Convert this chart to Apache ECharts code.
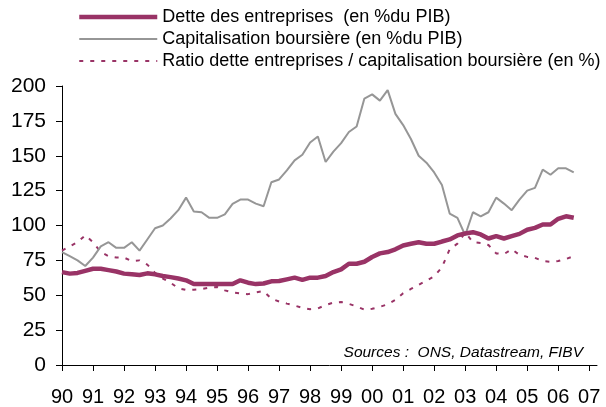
<!DOCTYPE html>
<html>
<head>
<meta charset="utf-8">
<script src="https://cdn.jsdelivr.net/npm/echarts@6/dist/echarts.min.js"></script>
<style>
html,body{margin:0;padding:0;background:#fff;}
#chart{width:606px;height:407px;}
</style>
</head>
<body>
<div id="chart"></div>
<script>
// Year tick labels (one tick per year, quarterly data)
var yearLabels = ['90','91','92','93','94','95','96','97','98','99','00','01','02','03','04','05','06','07'];

// Quarterly values, 1990 T1 .. 2006 T3
var detteEntreprises = [
  66.6, 65.5, 66, 67.5,
  69, 69, 68, 67,
  65.5, 65, 64.5, 65.7,
  65, 63.8, 63, 62,
  60.7, 58, 58, 58,
  58, 58, 58, 60.7,
  59, 58, 58.4, 60,
  60.2, 61.4, 62.6, 61,
  62.6, 62.6, 63.8, 66.6,
  68.6, 72.6, 72.6, 74,
  77.4, 80, 81, 82.9,
  85.7, 86.9, 88, 86.9,
  86.9, 88.5, 90, 92.9,
  94.3, 95.2, 93.6, 90.7,
  92.4, 90.7, 92.4, 94,
  97, 98.3, 100.7, 100.7,
  104.8, 106.6, 105.5
];
var capitalisation = [
  81, 78, 75, 71,
  77, 85, 88, 84,
  84, 88, 82, 90,
  98, 100, 105, 111,
  120, 110, 109.5, 105.5,
  105.5, 108, 115.5, 118.6,
  118.6, 115.7, 113.8, 131,
  133, 139.5, 146.7, 150.7,
  159.5, 163.8, 145.5, 153,
  159, 167, 171, 191,
  194, 189.5, 197, 180,
  172, 162, 150, 145,
  138, 129, 108.6, 105.5,
  93, 109.5, 106.6, 109.5,
  120, 115.7, 111, 118.6,
  125, 127, 140, 136.4,
  141, 141, 138
];
var ratioDetteCapi = [
  82, 85, 88, 93,
  88, 81, 78, 77,
  77, 74.5, 75, 72,
  66, 62, 59, 55,
  53.8, 54, 54.5, 55.5,
  56, 53.5, 52, 51.4,
  50.8, 52, 53, 47.5,
  45.5, 44, 42.6, 41,
  40, 40.5, 43, 44.7,
  45.2, 43.8, 42, 39.7,
  40.3, 41.7, 43.5, 46.7,
  51.5, 54.5, 57.5, 60.5,
  63.5, 70, 83, 87,
  95, 88, 87.5, 86,
  80, 79.5, 83, 79,
  77.5, 76.8, 74.5, 74,
  74.5, 76, 78
];
var seriesNames = [
  'Dette des entreprises  (en %du PIB)',
  'Capitalisation boursière (en %du PIB)',
  'Ratio dette entreprises / capitalisation boursière (en %)'
];
var sourceText = 'Sources :  ONS, Datastream, FIBV';

// quarterly categories: 1990 T1 .. 2007 T2
var categories = [];
yearLabels.forEach(function (y) {
  for (var q = 1; q <= 4; q++) categories.push(y + ' T' + q);
});
categories = categories.slice(0, 70);

var chart = echarts.init(document.getElementById('chart'), null, {renderer: 'canvas'});
var font = '"Liberation Sans", Arial, sans-serif';
chart.setOption({
  animation: false,
  backgroundColor: '#ffffff',
  grid: {left: 62, right: 9, top: 86, bottom: 41, containLabel: false},
  legend: {
    orient: 'vertical',
    left: 72,
    top: 3,
    itemWidth: 78,
    itemHeight: 18,
    itemGap: 4,
    itemStyle: {opacity: 0},
    textStyle: {fontFamily: font, fontSize: 18, color: '#000'},
    data: [
      {name: seriesNames[0], lineStyle: {width: 4.5}},
      {name: seriesNames[1], lineStyle: {width: 2}},
      {name: seriesNames[2], lineStyle: {width: 2}}
    ]
  },
  xAxis: {
    type: 'category',
    boundaryGap: false,
    data: categories,
    axisLine: {lineStyle: {color: '#000', width: 1}},
    axisTick: {interval: 3, length: 6, lineStyle: {color: '#000'}},
    axisLabel: {
      interval: 3,
      margin: 22,
      fontFamily: font,
      fontSize: 20,
      color: '#000',
      formatter: function (v) { return v.split(' ')[0]; }
    },
    splitLine: {show: false}
  },
  yAxis: {
    type: 'value',
    min: 0,
    max: 200,
    interval: 25,
    axisLine: {show: true, lineStyle: {color: '#000', width: 1}},
    axisTick: {show: true, length: 6, lineStyle: {color: '#000'}},
    axisLabel: {margin: 16, fontFamily: font, fontSize: 21, color: '#000'},
    splitLine: {show: false}
  },
  series: [
    {
      name: seriesNames[0],
      type: 'line',
      data: detteEntreprises,
      symbol: 'none',
      z: 3,
      itemStyle: {color: '#993366'},
      lineStyle: {color: '#993366', width: 4.5}
    },
    {
      name: seriesNames[1],
      type: 'line',
      data: capitalisation,
      symbol: 'none',
      z: 2,
      itemStyle: {color: '#969696'},
      lineStyle: {color: '#969696', width: 2}
    },
    {
      name: seriesNames[2],
      type: 'line',
      data: ratioDetteCapi,
      symbol: 'none',
      z: 1,
      itemStyle: {color: '#993366'},
      lineStyle: {color: '#993366', width: 2, type: [4, 7]}
    }
  ],
  graphic: [{
    type: 'text',
    right: 23,
    top: 345,
    style: {
      text: sourceText,
      fontFamily: font,
      fontSize: 15.5,
      fontStyle: 'italic',
      fill: '#000'
    }
  }]
});
</script>
</body>
</html>
